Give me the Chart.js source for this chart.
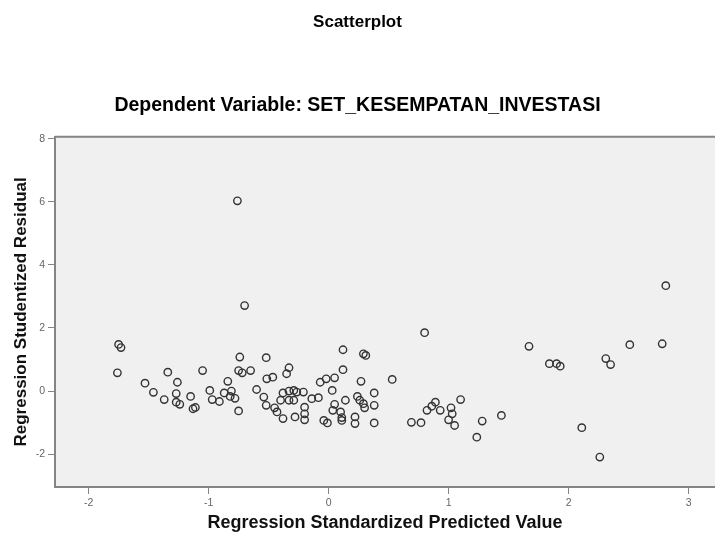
<!DOCTYPE html>
<html>
<head>
<meta charset="utf-8">
<title>Scatterplot</title>
<script src="https://cdn.jsdelivr.net/npm/chart.js@4.4.0/dist/chart.umd.min.js"></script>
<style>
    body { margin: 0; background: #fff; overflow: hidden; }
    #residual-chart { display: block; }
</style>
</head>
<body>
<canvas id="residual-chart" width="715" height="542"></canvas>
<script>
// Regression Standardized Predicted Value (x) vs Regression Studentized Residual (y)
const predictedValues = [
    -1.75, -1.73, -1.76, -1.53, -1.46, -1.37, -1.34, -1.26, -1.27, -1.27,
    -1.24, -1.15, -1.13, -1.11, -1.05, -0.99, -0.97, -0.91, -0.87, -0.84,
    -0.81, -0.82, -0.78, -0.74, -0.75, -0.72, -0.65, -0.75, -0.60, -0.76,
    -0.70, -0.52, -0.515, -0.465, -0.54, -0.52, -0.45, -0.43, -0.38, -0.40,
    -0.35, -0.33, -0.38, -0.33, -0.29, -0.265, -0.21, -0.33, -0.29, -0.28,
    -0.20, -0.20, -0.20, -0.14, -0.085, -0.07, -0.02, 0.05, 0.03, 0.12,
    0.12, -0.04, -0.01, 0.035, 0.05, 0.11, 0.11, 0.10, 0.14, 0.22,
    0.22, 0.24, 0.26, 0.29, 0.31, 0.27, 0.30, 0.29, 0.38, 0.38,
    0.38, 0.53, 0.69, 0.77, 0.80, 0.82, 0.86, 0.89, 0.93, 1.02,
    1.03, 1.00, 1.05, 1.10, 1.28, 1.235, 1.44, 1.67, 1.84, 1.90,
    1.93, 2.11, 2.26, 2.31, 2.35, 2.51, 2.78, 2.81
];
const studentizedResiduals = [
    1.48, 1.38, 0.58, 0.25, -0.04, -0.27, 0.60, 0.28, -0.08, -0.35,
    -0.42, -0.17, -0.56, -0.52, 0.65, 0.02, -0.27, -0.33, -0.06, 0.31,
    0.00, -0.17, -0.23, 1.08, 0.65, 0.58, 0.65, -0.63, 0.05, 6.03,
    2.71, 1.06, 0.39, 0.44, -0.19, -0.45, -0.53, -0.66, -0.87, -0.29,
    0.55, 0.74, -0.06, 0.00, 0.02, -0.03, -0.03, -0.29, -0.29, -0.82,
    -0.51, -0.91, -0.72, -0.24, -0.21, 0.28, 0.39, 0.42, 0.02, 1.31,
    0.68, -0.93, -1.01, -0.61, -0.42, -0.84, -0.93, -0.66, -0.29, -0.82,
    -1.03, -0.17, -0.29, 1.18, 1.13, 0.31, -0.53, -0.40, -0.06, -0.45,
    -1.01, 0.37, -0.99, -1.00, 1.85, -0.61, -0.48, -0.35, -0.61, -0.53,
    -0.72, -0.91, -1.09, -0.27, -0.95, -1.46, -0.77, 1.42, 0.87, 0.87,
    0.79, -1.16, -2.09, 1.03, 0.84, 1.47, 1.50, 3.34
];

const xRange = [-2.28, 3.22];
const yRange = [-3.04, 8.06];

const FONT = "'Liberation Sans', Arial, sans-serif";
const FRAME = '#858585';

// grey plot area + top edge of the frame
const plotBackground = {
    id: 'plotBackground',
    beforeDraw(chart) {
        const { ctx, chartArea } = chart;
        ctx.save();
        ctx.fillStyle = '#f0f0f0';
        ctx.fillRect(chartArea.left, chartArea.top, chartArea.right - chartArea.left, chartArea.bottom - chartArea.top);
        ctx.strokeStyle = FRAME;
        ctx.lineWidth = 2;
        ctx.beginPath();
        ctx.moveTo(chartArea.left, chartArea.top);
        ctx.lineTo(chartArea.right, chartArea.top);
        ctx.stroke();
        ctx.restore();
    }
};

document.addEventListener('DOMContentLoaded', function() {
    const points = predictedValues.map((x, i) => ({ x: x, y: studentizedResiduals[i] }));
    const ctx = document.getElementById('residual-chart').getContext('2d');

    new Chart(ctx, {
        type: 'scatter',
        data: {
            datasets: [{
                data: points,
                pointStyle: 'circle',
                pointRadius: 3.7,
                pointBorderWidth: 1.4,
                pointBorderColor: '#333',
                pointBackgroundColor: 'rgba(0,0,0,0)',
                pointHoverRadius: 3.7
            }]
        },
        options: {
            responsive: false,
            animation: false,
            layout: { padding: 0, autoPadding: false },
            plugins: {
                legend: { display: false },
                tooltip: { enabled: false },
                title: {
                    display: true,
                    text: 'Scatterplot',
                    color: '#000',
                    font: { family: FONT, size: 17, weight: 'bold', lineHeight: 1.2 },
                    padding: { top: 12, bottom: 62 }
                },
                subtitle: {
                    display: true,
                    text: 'Dependent Variable: SET_KESEMPATAN_INVESTASI',
                    color: '#000',
                    font: { family: FONT, size: 19.5, weight: 'bold', lineHeight: 1.2 },
                    padding: { top: 0, bottom: 19 }
                }
            },
            scales: {
                x: {
                    type: 'linear',
                    min: xRange[0],
                    max: xRange[1],
                    afterFit: function(scale) {
                        scale.height = 55;
                        scale.paddingLeft = 0;
                        scale.paddingRight = 0;
                    },
                    ticks: {
                        stepSize: 1,
                        includeBounds: false,
                        padding: 3,
                        color: '#666',
                        font: { family: FONT, size: 10.5, lineHeight: 1.2 }
                    },
                    grid: { drawOnChartArea: false, drawTicks: true, tickLength: 7, color: FRAME },
                    border: { display: true, color: FRAME, width: 2 },
                    title: {
                        display: true,
                        text: 'Regression Standardized Predicted Value',
                        color: '#111',
                        font: { family: FONT, size: 18, weight: 'bold', lineHeight: 1.2 },
                        padding: { top: 0, bottom: 8 }
                    }
                },
                y: {
                    type: 'linear',
                    min: yRange[0],
                    max: yRange[1],
                    afterFit: function(scale) { scale.width = 55; },
                    ticks: {
                        stepSize: 2,
                        includeBounds: false,
                        padding: 3,
                        color: '#666',
                        font: { family: FONT, size: 10.5, lineHeight: 1.2 }
                    },
                    grid: { drawOnChartArea: false, drawTicks: true, tickLength: 7, color: FRAME },
                    border: { display: true, color: FRAME, width: 2 },
                    title: {
                        display: true,
                        text: 'Regression Studentized Residual',
                        color: '#111',
                        font: { family: FONT, size: 17, weight: 'bold', lineHeight: 1.2 },
                        padding: { top: 11, bottom: 0 }
                    }
                }
            }
        },
        plugins: [plotBackground]
    });
});
</script>
</body>
</html>
